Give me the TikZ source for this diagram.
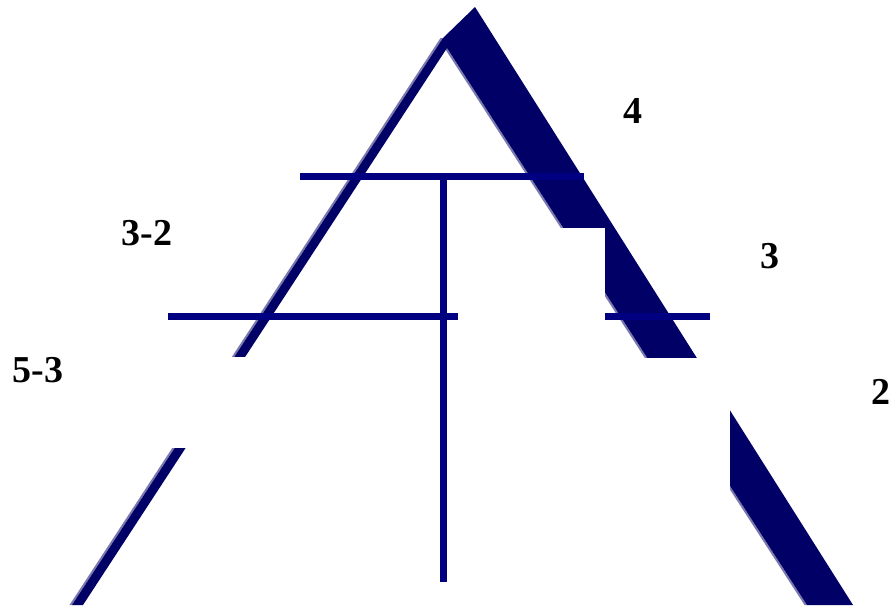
\documentclass[tikz,border=0pt]{standalone}
\usepackage{fontspec}
\setmainfont{Liberation Serif}
\definecolor{bandnavy}{HTML}{000066}
\definecolor{linenavy}{HTML}{000080}
\definecolor{shadownavy}{HTML}{7A7AAE}
\tikzset{
  lbl/.style={font=\fontsize{38}{44}\selectfont\bfseries, text=black, inner sep=0pt},
  bar/.style={draw=linenavy, line width=7pt},
  mask/.style={fill=white, draw=none}
}
\begin{document}
\begin{tikzpicture}[x=1pt,y=-1pt]
\useasboundingbox (0,0) rectangle (893,605);
% shadow strips on the left-facing edges
\fill[shadownavy] (69.5,605) -- (440.5,38) -- (443,38) -- (72,605) -- cycle;
\fill[shadownavy] (444.5,48) -- (804.5,605) -- (807,605) -- (447,48) -- cycle;
% frame: thin left leg and thick right band
\fill[bandnavy] (72,605) -- (443,38) -- (475,7) -- (853,605) -- (807,605) -- (447,48) -- (83,605) -- cycle;
% white covering boxes
\fill[mask] (458,228) rectangle (605,358);
\fill[mask] (458,358) rectangle (730,605);
\fill[mask] (458,358) rectangle (760,407);
\fill[mask] (150,357) rectangle (430,448);
% horizontal and vertical bars
\coordinate (h1a) at (300,176);
\coordinate (h1b) at (584,176);
\coordinate (h2a) at (168,316);
\coordinate (h2b) at (458,316);
\coordinate (h3a) at (605,316);
\coordinate (h3b) at (710,316);
\coordinate (vt) at (443,179);
\coordinate (vb) at (443,582);
\draw[draw=shadownavy, line width=7pt, xshift=-1.2pt, yshift=-1.2pt] (vt) -- (vb);
\draw[bar] (h1a) -- (h1b);
\draw[bar] (h2a) -- (h2b);
\draw[bar] (h3a) -- (h3b);
\draw[bar] (vt) -- (vb);
% labels
\node[lbl] (l4) at (633,111) {4};
\node[lbl] (l32) at (147,233) {3-2};
\node[lbl] (l3) at (770,256) {3};
\node[lbl] (l53) at (38,370) {5-3};
\node[lbl] (l2) at (881,392) {2};
\end{tikzpicture}
\end{document}
